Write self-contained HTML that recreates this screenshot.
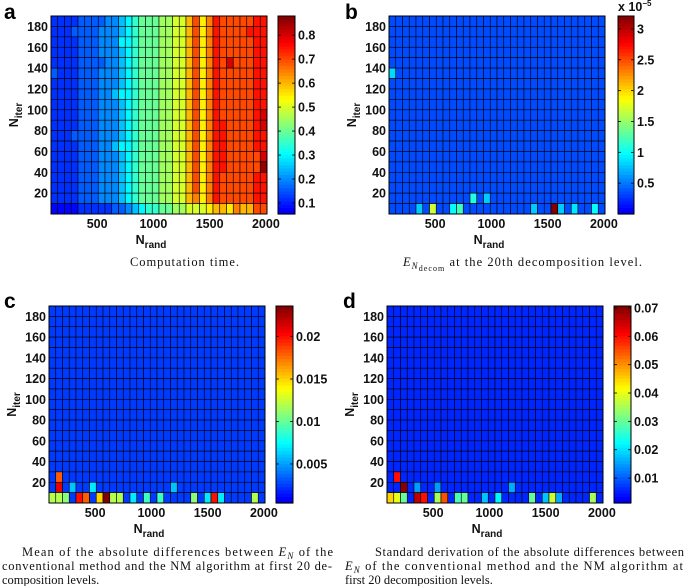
<!DOCTYPE html>
<html><head><meta charset="utf-8"><style>
html,body{margin:0;padding:0;background:#fff;}
svg{display:block;font-family:"Liberation Sans",Arial,sans-serif;}
.tk{font-size:12.5px;font-weight:bold;fill:#111;}
.cap{font-family:"Liberation Serif",serif;font-size:12.5px;fill:#111;}
.pl{font-size:21px;font-weight:bold;fill:#000;}
</style></head><body>
<svg id="fig" width="685" height="586" viewBox="0 0 685 586" xmlns="http://www.w3.org/2000/svg"></svg>
<script>
// ---- shared axis data ----
const nRandCenters = [120,180,240,300,360,420,480,540,600,660,720,780,840,900,960,1020,1080,1140,1200,1260,1320,1380,1440,1500,1560,1620,1680,1740,1800,1860,1920,1980];
const nIterCenters = [185,175,165,155,145,135,125,115,105,95,85,75,65,55,45,35,25,15,5];
const xTicks = [500,1000,1500,2000];
const yTicks = [20,40,60,80,100,120,140,160,180];

// ---- panel a: computation time (level codes, top row first) ----
const aLevelKeys = "0123456789abcdefg";
const aLevelVals = [0.08,0.12,0.16,0.2,0.25,0.3,0.35,0.4,0.45,0.5,0.55,0.6,0.65,0.7,0.75,0.8,0.86];
const aRows = [
"11112222334567778899bdacedddddee",
"11122223334567778899bdaceddddeee",
"11112223335567778899bdacedddddee",
"11112223334567778899bdacedddddee",
"11112222334567778899bdacedfdddee",
"21112223334567778899bdacedddddee",
"11112223334567778899bdacedddddee",
"11112223345567778899bdacedddddee",
"11112223334567778899bdacedddddee",
"11112223334567778899bdacedddddef",
"11112223334567778899bdaceeddddef",
"11122223334567778899bdaceeddddee",
"11112223345567778899bdaceeddddee",
"11112223334567778899bdaceedddddf",
"11112223334567778899bdaceedddddg",
"11112223334567778899bdacedddddee",
"11112223334567778899bdacedddddee",
"11112223334567778899bcacedddddee",
"00001111122345667788999abbacbbdd"
];

// ---- panel b: E_N decom (x1e-5) ----
const bBackground = 0.35;
const bHotRow = [5,18,18,18,18,18,18,18,18,18,17,17];
const bHotCol = [0,4,6,9,10,21,24,25,27,30,12,14];
const bHotVal = [0.85,0.8,1.7,1.0,1.2,0.8,3.2,0.8,0.9,1.0,1.1,0.8];

// ---- panel c: mean abs diff ----
const cBackground = 0.0025;
const cHotRow = [18,18,18,18,18,18,18,18,18,18,18,18,18,18,18,18,17,17,17,17,16];
const cHotCol = [0,1,2,4,5,7,8,9,10,12,14,16,21,23,24,25,1,3,6,18,1];
const cHotVal = [0.012,0.012,0.011,0.02,0.018,0.015,0.0235,0.012,0.012,0.007,0.009,0.009,0.011,0.007,0.02,0.007,0.021,0.006,0.007,0.006,0.018];
const cHotRow2 = [18];
const cHotCol2 = [30];
const cHotVal2 = [0.012];

// ---- panel d: std abs diff ----
const dBackground = 0.006;
const dHotRow = [18,18,18,18,18,18,18,18,18,18,18,18,18,18,18,18,17,17,17,17,16];
const dHotCol = [0,1,2,4,5,7,8,10,11,14,16,21,23,24,25,30,2,4,7,18,1];
const dHotVal = [0.045,0.04,0.03,0.066,0.06,0.035,0.055,0.028,0.03,0.018,0.022,0.03,0.018,0.038,0.016,0.035,0.07,0.015,0.015,0.016,0.06];

const cbTicksA = [0.1,0.2,0.3,0.4,0.5,0.6,0.7,0.8];
const cbTicksB = [0.5,1,1.5,2,2.5,3];
const cbTicksC = [0.005,0.01,0.015,0.02];
const cbTicksD = [0.01,0.02,0.03,0.04,0.05,0.06,0.07];

const NS="http://www.w3.org/2000/svg";
const svg=document.getElementById('fig');
function el(tag,attrs,parent){const e=document.createElementNS(NS,tag);for(const k in attrs)e.setAttribute(k,attrs[k]);(parent||svg).appendChild(e);return e;}
function jet(t){t=Math.max(0,Math.min(1,t));t=0.1+0.9*t;
 const r=Math.max(0,Math.min(1,1.5-Math.abs(4*t-3)));
 const g=Math.max(0,Math.min(1,1.5-Math.abs(4*t-2)));
 const b=Math.max(0,Math.min(1,1.5-Math.abs(4*t-1)));
 return `rgb(${Math.round(r*255)},${Math.round(g*255)},${Math.round(b*255)})`;}

function buildPanel(cfg,grid){
 const g=el('g',{});
 
 
 const xs=v=>cfg.px+(v-90)*cfg.w/1920;
 const ys=v=>cfg.py+cfg.h-(v)*cfg.h/190;
 const cw=60*cfg.w/1920, rh=10*cfg.h/190;
 for(let r=0;r<nIterCenters.length;r++){
  for(let c=0;c<nRandCenters.length;c++){
   const v=grid[r][c];
   const rc=el('rect',{x:xs(nRandCenters[c])-cw/2,y:ys(nIterCenters[r])-rh/2,width:cw,height:rh,fill:jet((v-cfg.vmin)/(cfg.vmax-cfg.vmin)),stroke:'#000','stroke-width':0.6},g);
   
   
  }
 }
 const fr=el('rect',{x:cfg.px,y:cfg.py,width:cfg.w,height:cfg.h,fill:'none',stroke:'#000','stroke-width':1},g);
 
 
 xTicks.forEach(v=>{const t=el('text',{x:xs(v),y:cfg.py+cfg.h+14,'text-anchor':'middle',class:'tk'},g);t.textContent=v;
  
  });
 yTicks.forEach(v=>{const t=el('text',{x:cfg.px-3,y:ys(v)+4.5,'text-anchor':'end',class:'tk'},g);t.textContent=v;
  
  });
 const xl=el('text',{x:cfg.px+cfg.w/2-8,y:cfg.py+cfg.h+30,'text-anchor':'middle',class:'tk','font-size':'14'},g);
 xl.innerHTML='N<tspan font-size="10" dy="4">rand</tspan>';
 
 
 const yl=el('text',{transform:`translate(${cfg.px-33},${cfg.py+cfg.h/2}) rotate(-90)`,'text-anchor':'middle',class:'tk','font-size':'14'},g);
 yl.innerHTML='N<tspan font-size="10" dy="4">iter</tspan>';
 
 
 const cb=el('g',{},g);
 
 
 const n=60;
 for(let i=0;i<n;i++){el('rect',{x:cfg.cbx,y:cfg.py+cfg.h*(1-(i+1)/n),width:cfg.cbw,height:cfg.h/n+0.6,fill:jet((i+0.5)/n)},cb);}
 el('rect',{x:cfg.cbx,y:cfg.py,width:cfg.cbw,height:cfg.h,fill:'none',stroke:'#000','stroke-width':1},cb);
 cfg.ticks.forEach((v,i)=>{const y=cfg.py+cfg.h*(1-(v-cfg.vmin)/(cfg.vmax-cfg.vmin));
  el('line',{x1:cfg.cbx,x2:cfg.cbx+3,y1:y,y2:y,stroke:'#000','stroke-width':0.8},cb);
  el('line',{x1:cfg.cbx+cfg.cbw-3,x2:cfg.cbx+cfg.cbw,y1:y,y2:y,stroke:'#000','stroke-width':0.8},cb);
  const t=el('text',{x:cfg.cbx+cfg.cbw+3,y:y+4.5,class:'tk'},cb);t.textContent=cfg.tickLabels[i];
  
  });
 const pl=el('text',{x:cfg.lx,y:cfg.ly,class:'pl'},g);pl.textContent=cfg.label;
 
 
}
function sparseGrid(bg,rows,cols,vals){const gr=nIterCenters.map(()=>nRandCenters.map(()=>bg));rows.forEach((r,i)=>{gr[r][cols[i]]=vals[i];});return gr;}

const gridA=aRows.map(s=>nRandCenters.map((_,c)=>{const k=aLevelKeys.indexOf(s[c]||s[s.length-1]);return aLevelVals[k<0?0:k];}));
const gridB=sparseGrid(bBackground,bHotRow,bHotCol,bHotVal);
const gridC=sparseGrid(cBackground,cHotRow.concat(cHotRow2),cHotCol.concat(cHotCol2),cHotVal.concat(cHotVal2));
const gridD=sparseGrid(dBackground,dHotRow,dHotCol,dHotVal);

buildPanel({name:'panel-a-computation-time',px:51,py:16,w:216,h:198,cbx:278,cbw:17,vmin:0.054,vmax:0.88,ticks:cbTicksA,tickLabels:cbTicksA.map(String),label:'a',lx:4,ly:19},gridA);
buildPanel({name:'panel-b-en-decom',px:389,py:16,w:216,h:198,cbx:618,cbw:16,vmin:0,vmax:3.21,ticks:cbTicksB,tickLabels:cbTicksB.map(String),label:'b',lx:345,ly:19},gridB);
buildPanel({name:'panel-c-mean-diff',px:49,py:306,w:216,h:197,cbx:276,cbw:17,vmin:0.0004,vmax:0.0236,ticks:cbTicksC,tickLabels:cbTicksC.map(String),label:'c',lx:4,ly:308},gridC);
buildPanel({name:'panel-d-std-diff',px:387,py:306,w:216,h:197,cbx:614,cbw:17,vmin:0.0012,vmax:0.0707,ticks:cbTicksD,tickLabels:cbTicksD.map(String),label:'d',lx:343,ly:308},gridD);

const ex=el('text',{x:618,y:11,class:'tk','font-size':'11','font-weight':'normal'});
ex.innerHTML='x 10<tspan font-size="8" dy="-5">−5</tspan>';



function cap(x,y,html,len,name){const t=el('text',{x:x,y:y,class:'cap'});t.innerHTML=html;if(len){t.setAttribute('textLength',len);t.setAttribute('lengthAdjust','spacing');}
 
 }
cap(130,266,'Computation time.',109,'caption-a');
cap(403,266,'<tspan font-style="italic">E</tspan><tspan font-style="italic" font-size="9" dy="3">N</tspan><tspan font-size="8" dy="2">decom</tspan><tspan dy="-5"> at the 20th decomposition level.</tspan>',239,'caption-b');
cap(22,556,'Mean of the absolute differences between <tspan font-style="italic">E</tspan><tspan font-style="italic" font-size="9" dy="3">N</tspan><tspan dy="-3"> of the</tspan>',311,'caption-c-line1');
cap(2,570,'conventional method and the NM algorithm at first 20 de-',330,'caption-c-line2');
cap(2,584,'composition levels.',0,'caption-c-line3');
cap(375,556,'Standard derivation of the absolute differences between',309,'caption-d-line1');
cap(345,570,'<tspan font-style="italic">E</tspan><tspan font-style="italic" font-size="9" dy="3">N</tspan><tspan dy="-3"> of the conventional method and the NM algorithm at</tspan>',338,'caption-d-line2');
cap(345,584,'first 20 decomposition levels.',0,'caption-d-line3');
</script>
</body></html>
